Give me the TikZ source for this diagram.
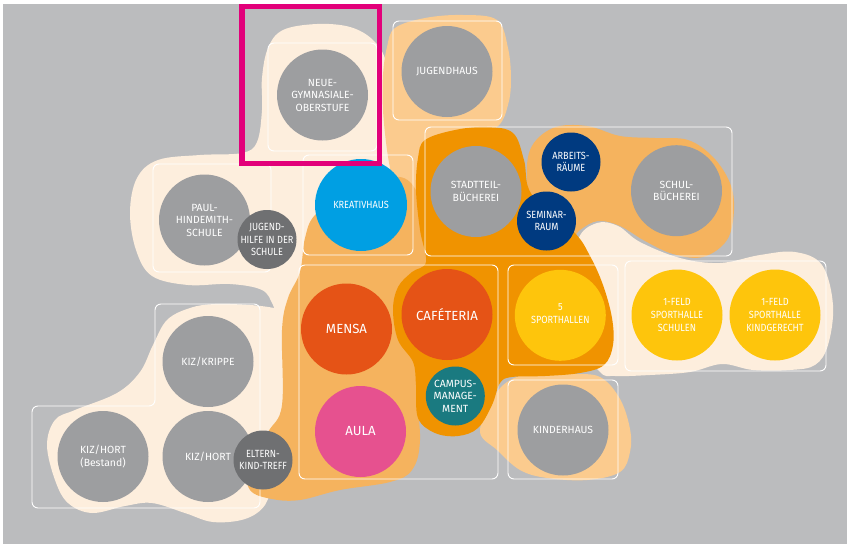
\documentclass[tikz,border=0pt]{standalone}
\usepackage{fontspec}
\setmainfont{Fira Sans}
\newfontfamily\condf[FakeStretch=0.88]{Fira Sans}
\definecolor{bgg}{HTML}{BBBCBE}
\definecolor{cream}{HTML}{FDEEDD}
\definecolor{lor}{HTML}{FBCB8E}
\definecolor{mor}{HTML}{F5B35E}
\definecolor{dor}{HTML}{F09300}
\definecolor{gry}{HTML}{9D9EA0}
\definecolor{dgry}{HTML}{6F7072}
\definecolor{cblue}{HTML}{009FE3}
\definecolor{navy}{HTML}{003A80}
\definecolor{rorange}{HTML}{E55316}
\definecolor{cpink}{HTML}{E6518F}
\definecolor{teal}{HTML}{1A7A80}
\definecolor{cyellow}{HTML}{FEC50C}
\definecolor{magbox}{HTML}{E2007A}
\begin{document}
\begin{tikzpicture}[x=1pt,y=-1pt,
  circ/.style={circle, inner sep=0pt, draw=none},
  lbl/.style={text=white, align=center, inner sep=0pt, font=\fontsize{10.4}{12.5}\selectfont},
  lblc/.style={text=white, align=center, inner sep=0pt, font=\condf\fontsize{10.4}{12.8}\selectfont},
  lblbig/.style={text=white, align=center, inner sep=0pt, font=\fontsize{13.2}{15}\selectfont},
  boxl/.style={draw=white, line width=0.9pt, rounded corners=6pt},
  blob/.style={smooth cycle, tension=0.6}]
\useasboundingbox (0,0) rectangle (847,544);
\fill[white] (0,0) rectangle (847,544);
\fill[bgg] (3,4) rectangle (847,544);

% cream blobs
\fill[cream] plot[blob] coordinates {(283,30) (317,24) (350,27) (373,40) (386,62) (388,100) (390,140) (396,180) (402,225) (398,255) (340,262) (312,270) (300,292) (294,318) (280,322) (273,305) (262,290) (230,284) (188,285) (152,276) (136,250) (130,212) (137,178) (158,160) (200,155) (242,153) (257,142) (262,110) (262,78) (268,48)};
\fill[cream] plot[blob] coordinates {(285,312) (289,360) (287,405) (278,440) (272,480) (265,505) (245,519) (213,522) (185,513) (152,503) (125,506) (92,513) (68,503) (55,480) (47,445) (55,420) (75,410) (117,393) (140,372) (153,345) (167,320) (190,308) (215,304) (250,305) (274,308)};
\fill[cream] plot[blob] coordinates {(578,240) (597,223) (618,226) (640,242) (680,258) (720,263) (760,255) (795,252) (822,265) (833,305) (828,345) (815,365) (790,370) (753,370) (722,364) (690,372) (650,375) (615,376) (600,372) (580,340) (575,290)};
% light orange
\fill[lor] plot[blob] coordinates {(395,28) (425,18) (463,15) (497,20) (508,48) (511,80) (508,105) (498,126) (470,138) (430,148) (420,190) (423,240) (418,262) (402,262) (398,225) (393,185) (387,150) (383,110) (383,75) (387,47)};
\fill[lor] plot[blob] coordinates {(480,432) (492,400) (507,382) (530,374) (570,374) (600,377) (620,399) (630,429) (630,452) (620,472) (587,480) (547,478) (520,470) (497,450)};
% medium orange
\fill[mor] plot[blob] coordinates {(305,238) (315,215) (345,195) (385,178) (410,182) (424,215) (426,260) (420,300) (416,380) (420,440) (412,470) (390,482) (340,490) (300,500) (272,499) (250,490) (248,465) (268,432) (282,405) (282,330) (288,298) (300,272)};
\fill[mor] plot[blob] coordinates {(530,150) (553,128) (587,126) (620,136) (655,138) (688,140) (713,157) (730,183) (734,210) (727,240) (703,257) (673,254) (645,241) (620,226) (598,221) (580,230) (565,245) (540,230) (528,190)};
% dark orange
\fill[dor] plot[blob] coordinates {(425,140) (455,130) (487,127) (513,133) (524,160) (532,195) (574,232) (590,256) (603,285) (612,318) (613,345) (604,365) (580,373) (545,376) (512,377) (500,383) (492,405) (478,428) (458,436) (435,433) (418,418) (416,385) (413,362) (398,340) (393,310) (398,287) (412,272) (426,262) (420,230) (416,190) (418,158)};

% white frames
\draw[boxl] (268,43) rectangle (377,151);
\draw[boxl] (393,21) rectangle (502,120);
\draw[boxl] (153,164) rectangle (271,272);
\draw[boxl] (303,155) rectangle (413,255);
\draw[boxl] (425,127) rectangle (732,256);
\draw[boxl] (299,265) rectangle (498,479);
\draw[boxl] (508,265) rectangle (618,365);
\draw[boxl] (508,380) rectangle (618,479);
\draw[boxl] (625,261) rectangle (826,371);
\draw[boxl] (155,304) -- (260,304) -- (260,508) -- (32,508) -- (32,406) -- (155,406) -- cycle;

% circles
\node[circ, fill=gry, minimum size=91pt] (neue) at (322.5,95) {};
\node[circ, fill=gry, minimum size=91pt] (jugendhaus) at (447,71.5) {};
\node[circ, fill=gry, minimum size=91pt] (paul) at (204.5,220) {};
\node[circ, fill=dgry, minimum size=59pt] (jhilfe) at (267,239.5) {};
\node[circ, fill=cblue, minimum size=92pt] (kreativ) at (361,205) {};
\node[circ, fill=gry, minimum size=91pt] (stadtteil) at (476,191.5) {};
\node[circ, fill=navy, minimum size=59pt] (arbeits) at (571,162) {};
\node[circ, fill=navy, minimum size=59pt] (seminar) at (546.5,221) {};
\node[circ, fill=gry, minimum size=91pt] (schul) at (676.5,190.7) {};
\node[circ, fill=rorange, minimum size=91pt] (mensa) at (346.5,329) {};
\node[circ, fill=cpink, minimum size=91pt] (aula) at (360.5,431.5) {};
\node[circ, fill=rorange, minimum size=91pt] (cafe) at (447,314.5) {};
\node[circ, fill=teal, minimum size=59pt] (campus) at (455.3,396) {};
\node[circ, fill=cyellow, minimum size=91pt] (sport) at (560.3,315.3) {};
\node[circ, fill=gry, minimum size=91pt] (kinderhaus) at (563,430) {};
\node[circ, fill=cyellow, minimum size=91pt] (feldA) at (677,315) {};
\node[circ, fill=cyellow, minimum size=91pt] (feldB) at (775,315) {};
\node[circ, fill=gry, minimum size=91pt] (krippe) at (208,361.5) {};
\node[circ, fill=gry, minimum size=91pt] (hortb) at (103,456.5) {};
\node[circ, fill=gry, minimum size=91pt] (hort) at (208,456.5) {};
\node[circ, fill=dgry, minimum size=59pt] (eltern) at (263,460) {};

% labels
\node[lbl] at (neue) {NEUE-\\GYMNASIALE-\\OBERSTUFE};
\node[lbl] at (jugendhaus) {JUGENDHAUS};
\node[lbl] at (paul) {PAUL-\\HINDEMITH-\\SCHULE};
\node[lblc] at (jhilfe) {JUGEND-\\HILFE IN DER\\SCHULE};
\node[lblc] at (kreativ) {KREATIVHAUS};
\node[lbl] at (stadtteil) {STADTTEIL-\\BÜCHEREI};
\node[lblc] at (arbeits) {ARBEITS-\\RÄUME};
\node[lblc] at (seminar) {SEMINAR-\\RAUM};
\node[lbl] at (schul) {SCHUL-\\BÜCHEREI};
\node[lblbig] at (mensa) {MENSA};
\node[lblbig] at (aula) {AULA};
\node[lblbig] at (cafe) {CAFÉTERIA};
\node[lbl] at (campus) {CAMPUS-\\MANAGE-\\MENT};
\node[lblc] at ([yshift=2pt]sport) {5\\SPORTHALLEN};
\node[lbl] at (kinderhaus) {KINDERHAUS};
\node[lblc] at (feldA) {1-FELD\\SPORTHALLE\\SCHULEN};
\node[lblc] at (feldB) {1-FELD\\SPORTHALLE\\KINDGERECHT};
\node[lbl] at (krippe) {KIZ/KRIPPE};
\node[lbl] at (hortb) {KIZ/HORT\\(Bestand)};
\node[lbl] at (hort) {KIZ/HORT};
\node[lblc] at (eltern) {ELTERN-\\KIND-TREFF};

% highlight frame
\draw[magbox, line width=5.5pt] (242,6.5) rectangle (379.5,163.5);
\end{tikzpicture}
\end{document}
